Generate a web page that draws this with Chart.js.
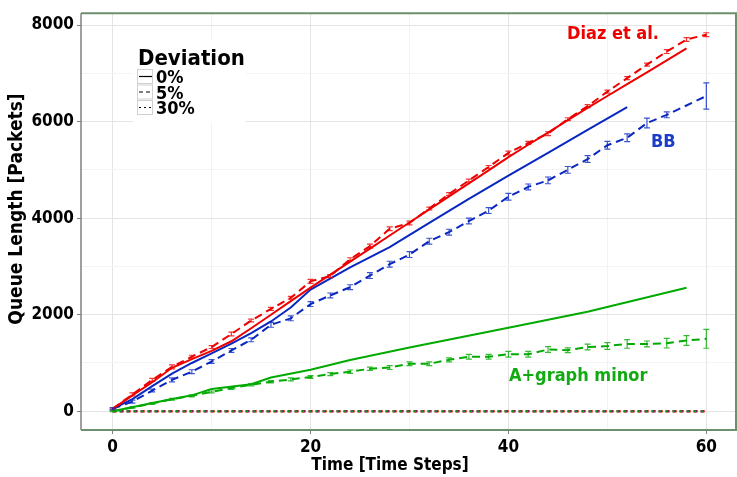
<!DOCTYPE html>
<html>
<head>
<meta charset="utf-8">
<script src="https://cdn.jsdelivr.net/npm/chart.js@4.4.0/dist/chart.umd.min.js"></script>
<style>
html,body{margin:0;padding:0;background:#fff;}
</style>
</head>
<body>
<canvas id="queueChart" width="737" height="477"></canvas>
<script>
// Queue length over time, three methods x three deviation levels

const diazX0 = [0,2,4,6,8,10,12,14,16,18,20,22,24,26,28,30,32,34,36,38,40,42,44,46,48,50,52,54,56,58];
const diazY0 = [50,330,600,900,1080,1250,1450,1720,2000,2280,2560,2830,3100,3370,3640,3910,4180,4450,4720,4990,5265,5520,5770,6030,6285,6530,6775,7020,7270,7516];

const diazX5 = [0,2,4,6,8,10,12,14,16,18,20,22,24,26,28,30,32,34,36,38,40,42,44,46,48,50,52,54,56,58,60];
const diazY5 = [50,350,650,920,1130,1330,1600,1880,2120,2350,2690,2800,3150,3420,3780,3900,4200,4500,4780,5060,5350,5560,5750,6050,6320,6620,6900,7180,7450,7700,7800];
const diazErr5 = [20,30,30,40,30,30,40,30,30,30,40,30,30,40,40,40,30,30,30,30,40,30,40,30,30,30,30,30,40,40,40];

const bbX0 = [0,2,4,6,8,10,12,14,16,18,20,24,28,32,36,40,44,48,52];
const bbY0 = [50,250,520,780,1000,1200,1400,1620,1860,2150,2520,2980,3400,3900,4400,4880,5350,5830,6300];

const bbX5 = [0,2,4,6,8,10,12,14,16,18,20,22,24,26,28,30,32,34,36,38,40,42,44,46,48,50,52,54,56,60];
const bbY5 = [50,200,430,650,820,1030,1260,1480,1790,1925,2220,2400,2570,2810,3047,3245,3524,3710,3940,4156,4443,4647,4782,5000,5224,5510,5665,5970,6140,6530];
const bbErr5 = [20,30,30,40,40,40,40,40,50,50,50,50,50,60,60,60,60,60,60,60,70,60,70,70,70,80,80,100,60,270];

const agmX0 = [0,4,8,10,14,16,20,24,30,40,48,58];
const agmY0 = [0,170,330,460,560,700,860,1060,1320,1730,2060,2560];

const agmX5 = [0,2,4,6,8,10,12,14,16,18,20,22,24,26,28,30,32,34,36,38,40,42,44,46,48,50,52,54,56,58,60];
const agmY5 = [0,80,160,250,320,400,480,550,610,660,710,770,820,880,905,985,985,1065,1130,1130,1180,1180,1280,1265,1330,1350,1395,1395,1410,1465,1500];
const agmErr5 = [10,15,20,20,20,20,25,25,25,30,30,30,35,35,40,40,40,40,50,50,60,60,60,50,60,70,90,60,100,100,195];

const x30 = [0,60];
const y30 = [0,0];

const xTicks = [0,10,20,30,40,50,60];
const yTicks = [0,1000,2000,3000,4000,5000,6000,7000,8000];

const RED = "#ee0000";
const BLUE = "#0a28c0";
const GREEN = "#00aa00";
const FONT = '"DejaVu Sans Condensed", "DejaVu Sans", sans-serif';

function pts(xs, ys){
return xs.map((v,i)=>({x:v,y:ys[i]}));
}

function line(data, color, dash, errors, width){
return {
data: data,
borderColor: color,
borderWidth: width || 2,
borderDash: dash,
pointRadius: 0,
fill: false,
tension: 0,
errors: errors
};
}

const errorBars = {
id:"errorBars",
afterDatasetsDraw(chart){
const {ctx, scales:{x,y}} = chart;
chart.data.datasets.forEach(ds=>{
if(!ds.errors) return;
ctx.save();
ctx.strokeStyle = ds.borderColor;
ctx.globalAlpha = 0.8;
ctx.lineWidth = 1.2;
ctx.setLineDash([]);
ds.data.forEach((p,i)=>{
const e = ds.errors[i];
const px = x.getPixelForValue(p.x);
const t = y.getPixelForValue(p.y+e);
const b = y.getPixelForValue(p.y-e);
ctx.beginPath();
ctx.moveTo(px,t); ctx.lineTo(px,b);
ctx.moveTo(px-3,t); ctx.lineTo(px+3,t);
ctx.moveTo(px-3,b); ctx.lineTo(px+3,b);
ctx.stroke();
});
ctx.restore();
});
}
};

const panel = {
id:"panel",
beforeDatasetsDraw(chart){
// white legend background over the grid
const ctx = chart.ctx;
ctx.save();
ctx.fillStyle = "#fff";
ctx.fillRect(133,40,113,82);
ctx.restore();
},
afterDraw(chart){
const ctx = chart.ctx;
const a = chart.chartArea;
ctx.save();
// frame
ctx.lineWidth = 2;
ctx.strokeStyle = "#6e8f6e";
ctx.beginPath();
ctx.moveTo(a.left,a.top); ctx.lineTo(a.right,a.top); ctx.lineTo(a.right,a.bottom); ctx.lineTo(a.left,a.bottom);
ctx.stroke();
ctx.strokeStyle = "#808080";
ctx.lineWidth = 1.5;
ctx.beginPath();
ctx.moveTo(a.left,a.top); ctx.lineTo(a.left,a.bottom);
ctx.stroke();

// axis titles
ctx.fillStyle = "#000";
ctx.textAlign = "center";
ctx.textBaseline = "middle";
ctx.font = "bold 17px " + FONT;
ctx.fillText("Time [Time Steps]",390,466);
ctx.save();
ctx.translate(17,209);
ctx.rotate(-Math.PI/2);
ctx.font = "bold 19px " + FONT;
ctx.fillText("Queue Length [Packets]",0,0);
ctx.restore();

// legend
ctx.textBaseline = "alphabetic";
ctx.textAlign = "left";
ctx.font = "bold 22px " + FONT;
ctx.fillText("Deviation",138,65);
const rows = [["0%",[]],["5%",[4,3]],["30%",[2,3]]];
ctx.font = "bold 18px " + FONT;
rows.forEach((r,i)=>{
const y0 = 69 + i*15.5;
ctx.strokeStyle = "#d0d0d0";
ctx.lineWidth = 1;
ctx.setLineDash([]);
ctx.strokeRect(137.5,y0+0.5,15,14);
ctx.strokeStyle = "#000";
ctx.lineWidth = 1.2;
ctx.setLineDash(r[1]);
ctx.beginPath();
ctx.moveTo(139,y0+7.5); ctx.lineTo(152,y0+7.5);
ctx.stroke();
ctx.setLineDash([]);
ctx.fillText(r[0],156,y0+14);
});

// series labels
ctx.font = "bold 18px " + FONT;
ctx.fillStyle = RED;
ctx.fillText("Diaz et al.",567,39);
ctx.fillStyle = "#1a3cc8";
ctx.fillText("BB",651,147);
ctx.fillStyle = "#11aa11";
ctx.fillText("A+graph minor",509,381);
ctx.restore();
}
};

new Chart(
document.getElementById("queueChart"),
{
type:"line",
data:{
datasets:[
line(pts(diazX0,diazY0),RED,[]),
line(pts(bbX0,bbY0),BLUE,[]),
line(pts(agmX0,agmY0),GREEN,[]),
line(pts(diazX5,diazY5),RED,[8,5],diazErr5),
line(pts(bbX5,bbY5),BLUE,[8,5],bbErr5),
line(pts(agmX5,agmY5),GREEN,[8,5],agmErr5),
line(pts(x30,y30),GREEN,[2,5],null,2),
line(pts(x30,y30),"#5030a0",[3,4],null,2),
line(pts(x30,y30),RED,[4,3],null,2.5)
]
},
options:{
responsive:false,
animation:false,
devicePixelRatio:1,
layout:{padding:{top:7,right:1,left:0,bottom:0}},
plugins:{legend:{display:false},tooltip:{enabled:false}},
scales:{
x:{
type:"linear",
min:-3.2,
max:63,
afterBuildTicks:s=>{s.ticks = xTicks.map(v=>({value:v}));},
afterFit:s=>{s.height = 47;},
ticks:{
callback:v=>v%20===0 ? v : "",
font:{family:FONT,size:17,weight:"bold"},
color:"#000",
padding:3,
maxRotation:0
},
grid:{
color:c=>c.tick && c.tick.value%20===0 ? "#e4e4e4" : "#f3f3f3",
tickColor:c=>c.tick && c.tick.value%20===0 ? "#808080" : "rgba(0,0,0,0)",
tickLength:4,
lineWidth:1
},
border:{display:false}
},
y:{
type:"linear",
min:-388,
max:8245,
afterBuildTicks:s=>{s.ticks = yTicks.map(v=>({value:v}));},
afterFit:s=>{s.width = 81;},
ticks:{
callback:v=>v%2000===0 ? v : "",
font:{family:FONT,size:17,weight:"bold"},
color:"#000",
padding:3
},
grid:{
color:c=>c.tick && c.tick.value%2000===0 ? "#e4e4e4" : "#f3f3f3",
tickColor:c=>c.tick && c.tick.value%2000===0 ? "#808080" : "rgba(0,0,0,0)",
tickLength:4,
lineWidth:1
},
border:{display:false}
}
}
},
plugins:[errorBars,panel]
}
);
</script>
</body>
</html>
